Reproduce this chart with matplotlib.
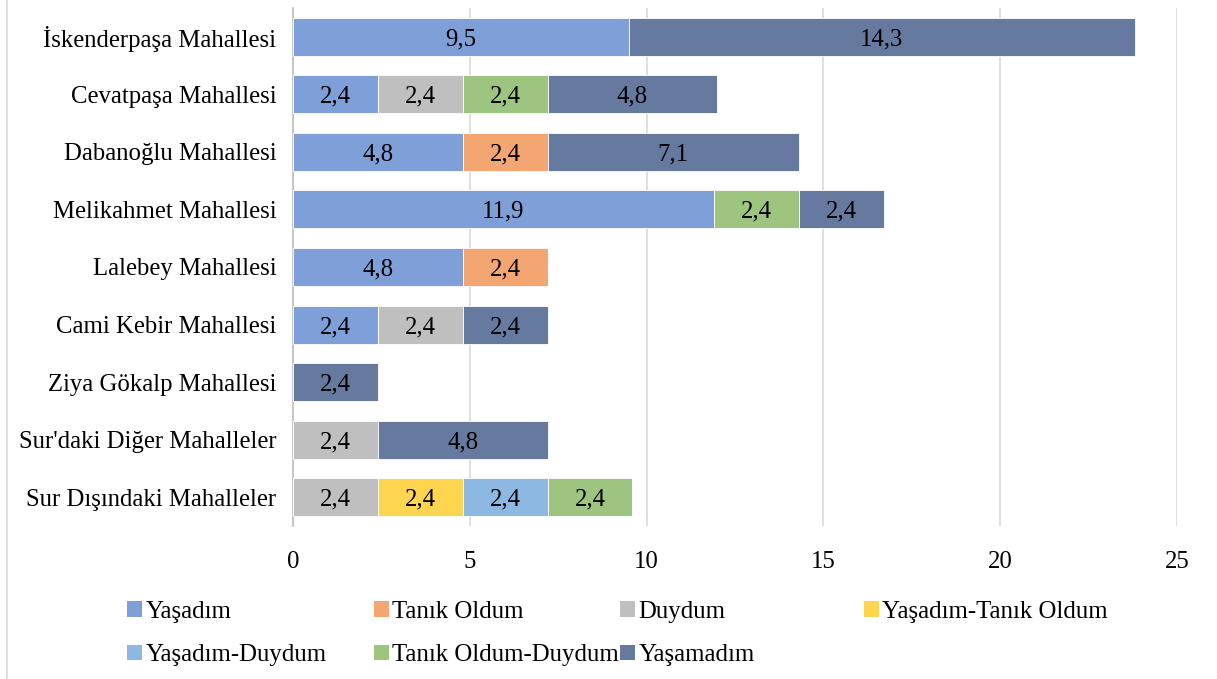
import numpy as np
import matplotlib.pyplot as plt
from matplotlib.patches import Patch
from matplotlib.lines import Line2D

plt.rcParams['font.family'] = ['Liberation Serif', 'DejaVu Serif']

# data
mahalleler = ['İskenderpaşa Mahallesi', 'Cevatpaşa Mahallesi', 'Dabanoğlu Mahallesi',
              'Melikahmet Mahallesi', 'Lalebey Mahallesi', 'Cami Kebir Mahallesi',
              'Ziya Gökalp Mahallesi', "Sur'daki Diğer Mahalleler", 'Sur Dışındaki Mahalleler']
series = ['Yaşadım', 'Tanık Oldum', 'Duydum', 'Yaşadım-Tanık Oldum',
          'Yaşadım-Duydum', 'Tanık Oldum-Duydum', 'Yaşamadım']
yasadim = [9.5, 2.4, 4.8, 11.9, 4.8, 2.4, 0, 0, 0]
tanik_oldum = [0, 0, 2.4, 0, 2.4, 0, 0, 0, 0]
duydum = [0, 2.4, 0, 0, 0, 2.4, 0, 2.4, 2.4]
yasadim_tanik = [0, 0, 0, 0, 0, 0, 0, 0, 2.4]
yasadim_duydum = [0, 0, 0, 0, 0, 0, 0, 0, 2.4]
tanik_duydum = [0, 2.4, 0, 2.4, 0, 0, 0, 0, 2.4]
yasamadim = [14.3, 4.8, 7.1, 2.4, 0, 2.4, 2.4, 4.8, 0]

colors = ['#7F9FD8', '#F4A672', '#BFBFBF', '#FFD54F', '#8CB8E2', '#9DC57F', '#66799F']
values = [yasadim, tanik_oldum, duydum, yasadim_tanik, yasadim_duydum, tanik_duydum, yasamadim]

fs = 17.8
fig = plt.figure(figsize=(12.17, 6.79), dpi=100)
ax = fig.add_axes([293 / 1217, 1 - 526 / 679, (1177 - 293) / 1217, (526 - 8) / 679])

y = np.arange(len(mahalleler))
left = np.zeros(len(mahalleler))
for name, vals, c in zip(series, values, colors):
    vals = np.array(vals)
    bars = ax.barh(y, vals, left=left, height=0.66, color=c, edgecolor='white',
                   linewidth=0.6, label=name, zorder=3)
    labels = [('%.1f' % v).replace('.', ',') if v > 0 else '' for v in vals]
    txts = ax.bar_label(bars, labels=labels, label_type='center', fontsize=fs, color='black')
    for t in txts:
        t.set_va('center_baseline')
    left += vals

ax.set_xlim(0, 25)
ax.set_ylim(len(mahalleler) - 0.5, -0.5)
ax.set_xticks(np.arange(0, 26, 5))
ax.set_yticks(y)
ax.set_yticklabels(mahalleler)
ax.tick_params(axis='both', length=0, labelsize=fs)
ax.tick_params(axis='x', pad=18)
ax.tick_params(axis='y', pad=12)
ax.xaxis.grid(True, color='#D9D9D9', linewidth=1.2, zorder=0)
for s in ['top', 'right', 'bottom']:
    ax.spines[s].set_visible(False)
ax.spines['left'].set_color('#BFBFBF')
ax.spines['left'].set_linewidth(1.2)

# legend, laid out in columns like the original
handles = [Patch(facecolor=c, label=n) for n, c in zip(series, colors)]
col_x = [127, 374, 620, 864]
cols = [[0, 4], [1, 5], [2, 6], [3]]
for cx, idx in zip(col_x, cols):
    fig.legend(handles=[handles[i] for i in idx], loc='upper left',
               bbox_to_anchor=(cx / 1217, 1 - 601 / 679), frameon=False,
               fontsize=17.9, handlelength=0.62, handleheight=0.58, handletextpad=0.12,
               labelspacing=0.86, borderpad=0, borderaxespad=0)

fig.add_artist(Line2D([7 / 1217, 7 / 1217], [0, 1], color='#D9D9D9', linewidth=1.2))

fig.savefig('out.png', dpi=100)
